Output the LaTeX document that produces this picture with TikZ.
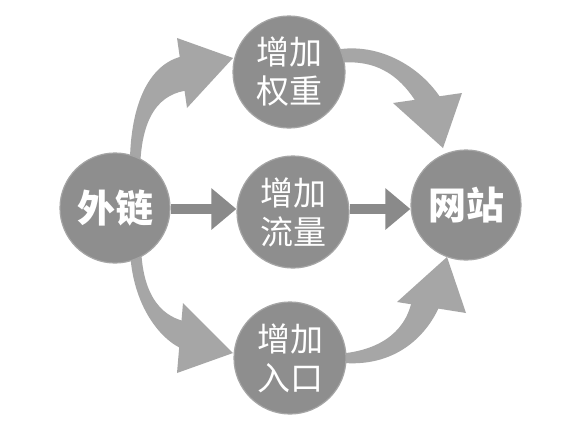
\documentclass[tikz,border=0pt]{standalone}
\usepackage{fontspec}
\newfontfamily\cjk{Noto Sans CJK SC}
\usetikzlibrary{arrows.meta,backgrounds}
\definecolor{circfill}{RGB}{142,142,142}
\definecolor{circedge}{RGB}{165,165,165}
\definecolor{curvearrow}{RGB}{166,166,166}
\definecolor{straightarrow}{RGB}{138,138,138}
\begin{document}
\begin{tikzpicture}[x=1pt,y=-1pt,
  hub/.style={circle, fill=circfill, draw=circedge, line width=1.2pt, minimum size=110pt, inner sep=0pt,
    text=white, font=\cjk\bfseries\fontsize{38}{40}\selectfont},
  effect/.style={circle, fill=circfill, draw=circedge, line width=1.2pt, minimum size=112pt, inner sep=0pt,
    align=center, text=white, font=\cjk\fontsize{33}{39}\selectfont},
  bendarrow/.style={fill=curvearrow},
  flow/.style={draw=straightarrow, line width=10pt, -{Triangle[length=25pt,width=40pt]}}]
\useasboundingbox (0,0) rectangle (587,424);

% circles
\node[hub] (src) at (115,208) {外链};
\node[hub] (site) at (466,205) {网站};
\node[effect] (weight) at (289,72) {增加\\权重};
\node[effect] (traffic) at (293,212) {增加\\流量};
\node[effect] (entry) at (290,358) {增加\\入口};
\coordinate (row) at (0,209);

\begin{scope}[on background layer]
\fill[white] (0,0) rectangle (587,424);
% top-left: src -> weight
\fill[bendarrow] (130,175) .. controls (128,100) and (152,62) .. (184,56)
  -- (190,90) .. controls (160,93) and (140,115) .. (140,175) -- cycle;
\fill[bendarrow] (177,38) -- (233,58) -- (187,108) -- cycle;
% top-right: weight -> site
\fill[bendarrow] (330,51) .. controls (375,40) and (420,65) .. (442,100)
  -- (418,105) .. controls (398,72) and (372,57) .. (330,64) -- cycle;
\fill[bendarrow] (393,103) -- (462,93) -- (443,148) -- cycle;
% bottom-left: src -> entry
\fill[bendarrow] (130,245) .. controls (130,300) and (158,340) .. (185,350)
  -- (188,322) .. controls (165,318) and (142,300) .. (141,245) -- cycle;
\fill[bendarrow] (183,303) -- (233,353) -- (177,373) -- cycle;
% bottom-right: entry -> site
\fill[bendarrow] (335,362) .. controls (390,370) and (425,340) .. (440,305)
  -- (412,300) .. controls (405,335) and (375,352) .. (335,354) -- cycle;
\fill[bendarrow] (397,302) -- (466,313) -- (447,257) -- cycle;
% straight arrows
\draw[flow] (src.east |- row) -- (traffic.west |- row);
\draw[flow] (traffic.east |- row) -- (site.west |- row);
\end{scope}
\end{tikzpicture}
\end{document}
